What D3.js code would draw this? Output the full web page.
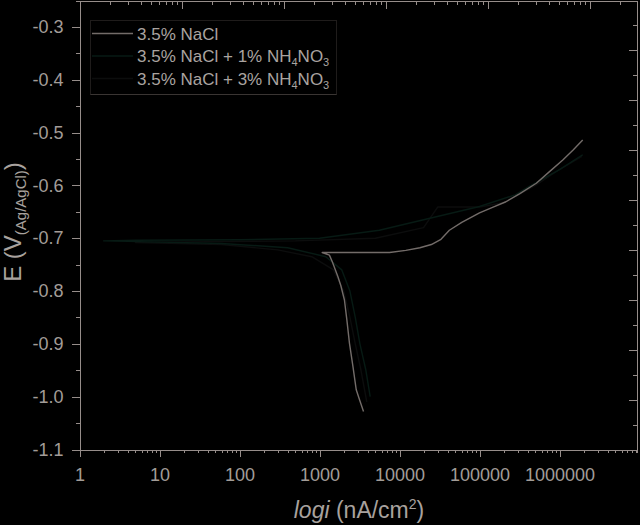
<!DOCTYPE html>
<html>
<head>
<meta charset="utf-8">
<script src="https://cdn.jsdelivr.net/npm/d3@7"></script>
<style>
  html, body { margin: 0; padding: 0; background: #000; }
  svg { display: block; font-family: "Liberation Sans", Arial, sans-serif; }
  .axis path, .axis line { stroke: #968d8a; shape-rendering: crispEdges; }
  .axis text { fill: #a29c98; font-size: 18px; }
</style>
</head>
<body>
<svg width="640" height="525"></svg>
<script>

// tick values and labels
var xTicks = [1, 10, 100, 1000, 10000, 100000, 1000000];
var xTickLabels = ["1", "10", "100", "1000", "10000", "100000", "1000000"];
var yTicks = [-0.3, -0.4, -0.5, -0.6, -0.7, -0.8, -0.9, -1.0, -1.1];
var yTickLabels = ["-0.3", "-0.4", "-0.5", "-0.6", "-0.7", "-0.8", "-0.9", "-1.0", "-1.1"];

// series names
var seriesNames = ["3.5% NaCl", "3.5% NaCl + 1% NH4NO3", "3.5% NaCl + 3% NH4NO3"];

// [i (nA/cm2), E (V)]
var nacl = [
  [3550, -1.028], [3150, -1.005], [2880, -0.987], [2620, -0.943], [2370, -0.899],
  [2200, -0.855], [2050, -0.817], [1850, -0.790], [1700, -0.773], [1450, -0.745],
  [1330, -0.732], [1080, -0.727], [1500, -0.727], [3000, -0.727], [7500, -0.727],
  [12000, -0.723], [18000, -0.718], [25000, -0.712], [33000, -0.702], [42000, -0.685],
  [60000, -0.670], [100000, -0.652], [148000, -0.641], [214000, -0.631], [316000, -0.616],
  [513000, -0.596], [750000, -0.574], [1100000, -0.552], [1480000, -0.533], [1950000, -0.514]
];
var nh1 = [
  [4300, -1.000], [3800, -0.950], [3200, -0.900], [2800, -0.850], [2400, -0.800],
  [1900, -0.760], [1200, -0.735], [400, -0.718], [60, -0.710], [4, -0.706],
  [2, -0.705], [5, -0.704], [100, -0.703], [1000, -0.700], [5600, -0.685],
  [20000, -0.665], [100000, -0.640], [280000, -0.618], [420000, -0.602],
  [1000000, -0.570], [1950000, -0.542]
];
var nh3 = [
  [3900, -1.010], [3300, -0.950], [2800, -0.900], [2400, -0.850], [2000, -0.800],
  [1500, -0.760], [800, -0.735], [300, -0.722], [60, -0.712], [10, -0.709],
  [5, -0.708], [20, -0.707], [500, -0.705], [5000, -0.700], [20000, -0.680],
  [30000, -0.641], [100000, -0.641], [200000, -0.633], [500000, -0.600],
  [1000000, -0.570], [1900000, -0.545]
];

var seriesColors = ["#736c69", "#071a14", "#0c0d0d"];

var svg = d3.select("svg");
svg.append("rect").attr("width", 640).attr("height", 525).attr("fill", "#000");

var pL = 79.5, pR = 636.5, pT = 0.5, pB = 449.5;

// scales
var x = d3.scaleLog().domain([1, Math.pow(10, 6.9625)]).range([pL, pR]);
var xTop = d3.scaleLog().domain([1, Math.pow(10, (pR - pL) / 102)]).range([pL, pR]);
var y = d3.scaleLinear().domain([-1.1, -0.25]).range([pB, pT]);
var yRight = d3.scaleLinear().domain([-1.1, -0.2]).range([pB + 0.5, pT]);

function minors(scale) {
  var out = [];
  var d = scale.domain();
  for (var e = 0; e < 8; e++) {
    for (var k = 2; k <= 9; k++) {
      var v = k * Math.pow(10, e);
      if (v >= d[0] && v <= d[1]) out.push(v);
    }
  }
  return out;
}
function halfSteps(scale) {
  var out = [];
  var d = scale.domain();
  for (var v = d[0] + 0.05; v < d[1]; v += 0.1) out.push(v);
  return out;
}

// bottom axis
svg.append("g").attr("class", "axis")
  .attr("transform", "translate(0," + pB + ")")
  .call(d3.axisBottom(x).tickValues(minors(x)).tickSize(3.5).tickFormat(""));
svg.append("g").attr("class", "axis")
  .attr("transform", "translate(0," + pB + ")")
  .call(d3.axisBottom(x).tickValues(xTicks).tickSize(7).tickSizeOuter(0).tickPadding(12)
    .tickFormat(function(d, i) { return xTickLabels[i]; }));

// top axis (inward ticks)
svg.append("g").attr("class", "axis")
  .attr("transform", "translate(0," + pT + ")")
  .call(d3.axisBottom(xTop).tickValues(minors(xTop)).tickSize(4).tickSizeOuter(0).tickFormat(""));
svg.append("g").attr("class", "axis")
  .attr("transform", "translate(0," + pT + ")")
  .call(d3.axisBottom(xTop).tickValues([10, 100, 1000, 10000, 100000]).tickSize(8).tickSizeOuter(0).tickFormat(""));

// left axis
svg.append("g").attr("class", "axis")
  .attr("transform", "translate(" + pL + ",0)")
  .call(d3.axisLeft(y).tickValues(halfSteps(y)).tickSize(4).tickSizeOuter(0).tickFormat(""));
svg.append("g").attr("class", "axis")
  .attr("transform", "translate(" + pL + ",0)")
  .call(d3.axisLeft(y).tickValues(yTicks).tickSize(8).tickSizeOuter(0).tickPadding(8)
    .tickFormat(function(d, i) { return yTickLabels[i]; }));

// right axis (inward ticks)
svg.append("g").attr("class", "axis")
  .attr("transform", "translate(" + pR + ",0)")
  .call(d3.axisLeft(yRight).tickValues(halfSteps(yRight)).tickSize(4).tickSizeOuter(0).tickFormat(""));
svg.append("g").attr("class", "axis")
  .attr("transform", "translate(" + pR + ",0)")
  .call(d3.axisLeft(yRight).tickValues(d3.range(-1.1, -0.2, 0.1)).tickSize(8).tickSizeOuter(0).tickFormat(""));

// curves
var line = d3.line().x(function(d) { return x(d[0]); }).y(function(d) { return y(d[1]); });
[nh3, nh1, nacl].forEach(function(s, i) {
  svg.append("path").datum(s)
    .attr("d", line)
    .attr("fill", "none")
    .attr("stroke", seriesColors[2 - i])
    .attr("stroke-width", 1.4)
    .attr("stroke-linejoin", "round");
});

// legend
var lg = svg.append("g");
lg.append("rect").attr("x", 90.5).attr("y", 20.5).attr("width", 246).attr("height", 74)
  .attr("fill", "none").attr("stroke", "#1f1c1b");
lg.append("line").attr("x1", 90.5).attr("x2", 336.5).attr("y1", 94.5).attr("y2", 94.5)
  .attr("stroke", "#3a3533");
var rowY = [33.5, 56, 78.5];
seriesNames.forEach(function(name, i) {
  lg.append("line").attr("x1", 92).attr("x2", 133).attr("y1", rowY[i]).attr("y2", rowY[i])
    .attr("stroke", seriesColors[i]).attr("stroke-width", 1.4);
  var t = lg.append("text").attr("x", 137).attr("y", rowY[i] + 6)
    .attr("fill", "#aaa4a0").attr("font-size", 17);
  var m = name.match(/^(.*NH)4NO3$/);
  if (m) {
    t.append("tspan").text(m[1]);
    t.append("tspan").attr("font-size", 11).attr("dy", 4).text("4");
    t.append("tspan").attr("dy", -4).text("NO");
    t.append("tspan").attr("font-size", 11).attr("dy", 4).text("3");
  } else {
    t.text(name);
  }
});

// axis titles
var xt = svg.append("text").attr("x", 359).attr("y", 518).attr("text-anchor", "middle")
  .attr("fill", "#a8a29e").attr("font-size", 23);
xt.append("tspan").attr("font-style", "italic").text("logi");
xt.append("tspan").text(" (nA/cm");
xt.append("tspan").attr("font-size", 14).attr("dy", -9).text("2");
xt.append("tspan").attr("dy", 9).text(")");

var yt = svg.append("text").attr("transform", "translate(21,222) rotate(-90)")
  .attr("text-anchor", "middle").attr("fill", "#a8a29e").attr("font-size", 24);
yt.append("tspan").text("E (V");
yt.append("tspan").attr("font-size", 15).attr("dy", 5).text("(Ag/AgCl)");
yt.append("tspan").attr("dy", -5).text(")");

</script>
</body>
</html>
